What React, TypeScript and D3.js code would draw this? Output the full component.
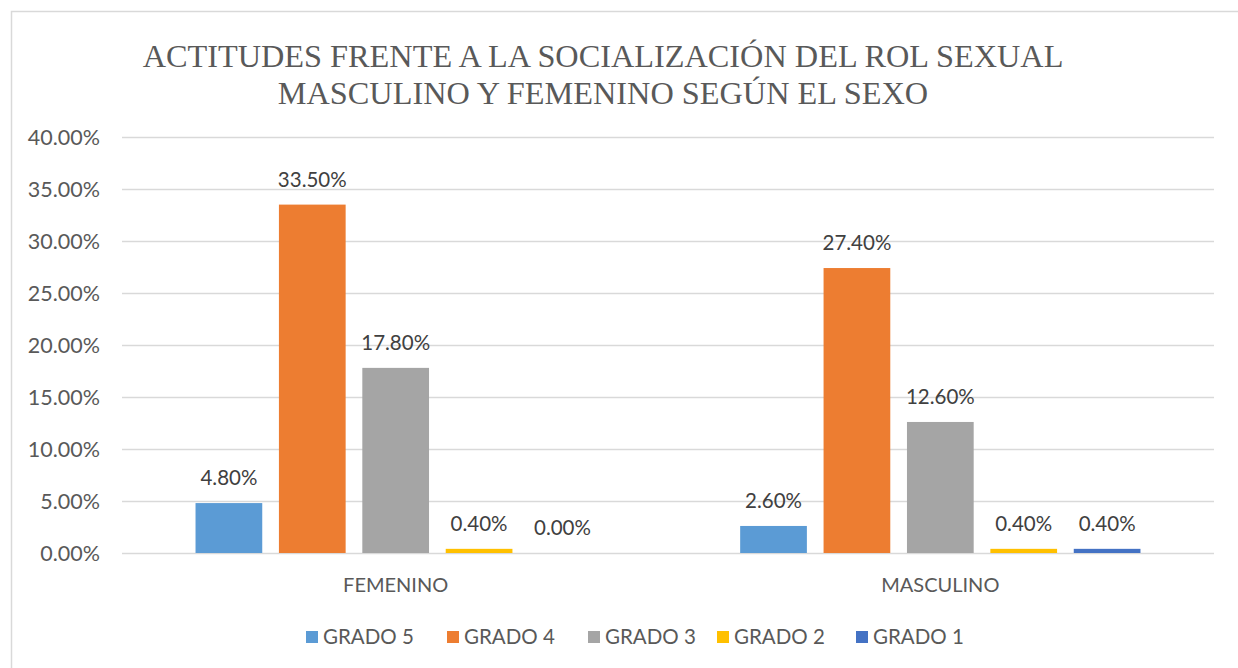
import React, { useRef, useEffect } from "react";
import * as d3 from "d3";

// chart data
const categories = ["FEMENINO", "MASCULINO"];
const series = ["GRADO 5", "GRADO 4", "GRADO 3", "GRADO 2", "GRADO 1"];
const grado5 = [4.8, 2.6];
const grado4 = [33.5, 27.4];
const grado3 = [17.8, 12.6];
const grado2 = [0.4, 0.4];
const grado1 = [0.0, 0.4];
const yTicks = [0, 5, 10, 15, 20, 25, 30, 35, 40];
const colors = ["#5B9BD5", "#ED7D31", "#A5A5A5", "#FFC000", "#4472C4"];
const titleLines = [
  "ACTITUDES FRENTE A LA SOCIALIZACIÓN DEL ROL SEXUAL",
  "MASCULINO Y FEMENINO SEGÚN EL SEXO",
];

const W = 1238;
const H = 668;
const SANS = "Lato, Carlito, 'Noto Sans', sans-serif";
const SERIF = "Liberation Serif, DejaVu Serif, serif";

function App() {
  const svgRef = useRef<SVGSVGElement>(null);

  useEffect(() => {
    const values = [grado5, grado4, grado3, grado2, grado1];
    const svg = d3.select(svgRef.current);
    svg.selectAll("*").remove();

    const left = 122, right = 1214, top = 137, bottom = 553;

    // frame
    svg.append("rect")
      .attr("x", 11.5).attr("y", 11.5)
      .attr("width", W + 20).attr("height", H + 20)
      .attr("fill", "#fff").attr("stroke", "#d9d9d9").attr("stroke-width", 1.5);

    // title
    svg.append("g").selectAll("text")
      .data(titleLines)
      .join("text")
      .attr("x", 603)
      .attr("y", (d, i) => 67 + i * 37)
      .attr("text-anchor", "middle")
      .style("font-family", SERIF)
      .attr("font-size", 32.3)
      .attr("fill", "#595959")
      .text(d => d);

    // scales
    const y = d3.scaleLinear().domain([0, 40]).range([bottom, top]);
    const x0 = d3.scaleBand().domain(categories).range([left, right]).paddingInner(0.265).paddingOuter(0.135);
    const x1 = d3.scaleBand().domain(series).range([0, x0.bandwidth()]).paddingInner(0.2);

    // grid + y axis labels
    const grid = svg.append("g");
    grid.selectAll("line")
      .data(yTicks)
      .join("line")
      .attr("x1", left).attr("x2", right)
      .attr("y1", d => Math.round(y(d)) + 0.5).attr("y2", d => Math.round(y(d)) + 0.5)
      .attr("stroke", "#d9d9d9").attr("stroke-width", 1.5);
    grid.selectAll("text")
      .data(yTicks)
      .join("text")
      .attr("x", 100)
      .attr("y", d => y(d))
      .attr("dy", "0.35em")
      .attr("text-anchor", "end")
      .style("font-family", SANS).attr("font-size", 21.5)
      .attr("fill", "#595959")
      .text(d => d.toFixed(2) + "%");

    // bars
    const groups = svg.append("g").selectAll("g")
      .data(categories)
      .join("g")
      .attr("transform", d => `translate(${x0(d)},0)`);

    groups.selectAll("rect")
      .data((c, ci) => series.map((s, si) => ({ s, si, v: values[si][ci] })))
      .join("rect")
      .attr("x", d => x1(d.s)!)
      .attr("y", d => y(d.v))
      .attr("width", x1.bandwidth())
      .attr("height", d => bottom - y(d.v))
      .attr("fill", d => colors[d.si]);

    groups.selectAll("text")
      .data((c, ci) => series.map((s, si) => ({ s, si, v: values[si][ci] })))
      .join("text")
      .attr("x", d => x1(d.s)! + x1.bandwidth() / 2)
      .attr("y", d => y(d.v) - 18)
      .attr("text-anchor", "middle")
      .style("font-family", SANS).attr("font-size", 20.5)
      .attr("fill", "#404040")
      .text(d => d.v.toFixed(2) + "%");

    // category labels
    svg.append("g").selectAll("text")
      .data(categories)
      .join("text")
      .attr("x", d => x0(d)! + x0.bandwidth() / 2)
      .attr("y", 592)
      .attr("text-anchor", "middle")
      .style("font-family", SANS).attr("font-size", 20)
      .attr("fill", "#595959")
      .text(d => d);

    // legend
    const legX = [306, 447, 588, 717, 856];
    const leg = svg.append("g").selectAll("g")
      .data(series)
      .join("g")
      .attr("transform", (d, i) => `translate(${legX[i]},637)`);
    leg.append("rect")
      .attr("x", 0).attr("y", -6)
      .attr("width", 12).attr("height", 12)
      .attr("fill", (d, i) => colors[i]);
    leg.append("text")
      .attr("x", 17).attr("y", 0)
      .attr("dy", "0.35em")
      .style("font-family", SANS).attr("font-size", 20.5)
      .attr("fill", "#595959")
      .text(d => d);
  }, []);

  return (
    <svg
      ref={svgRef}
      width={W}
      height={H}
      style={{ position: "absolute", left: 0, top: 0, background: "#fff" }}
    ></svg>
  );
}

export default App;
